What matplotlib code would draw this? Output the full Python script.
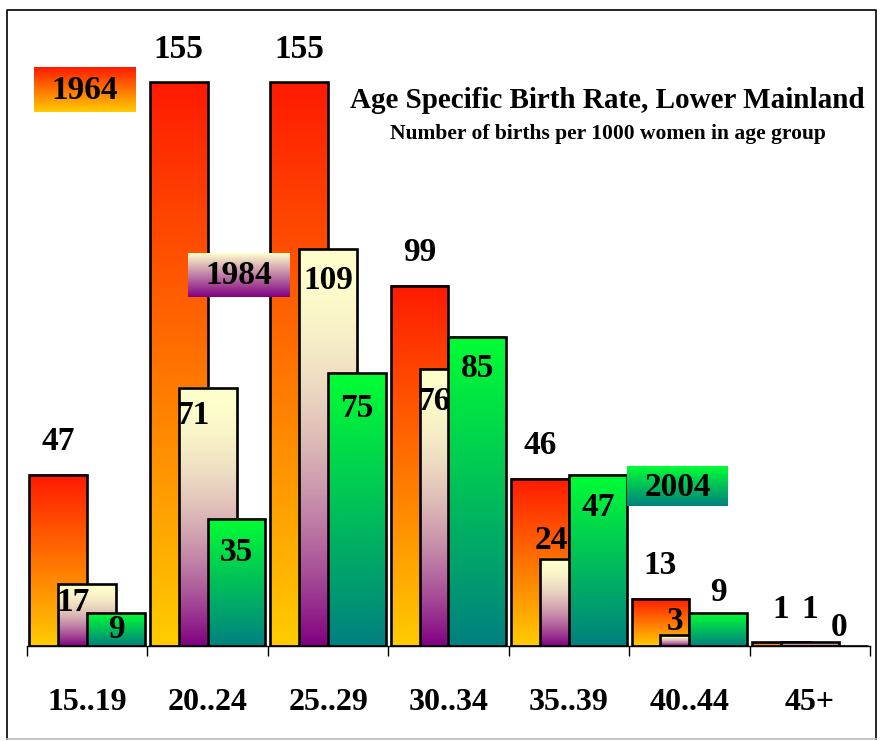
import numpy as np
import matplotlib
matplotlib.use("Agg")
import matplotlib.pyplot as plt
from matplotlib.patches import Rectangle
from matplotlib.colors import to_rgb

plt.rcParams['font.family'] = ['Liberation Serif', 'DejaVu Serif']
plt.rcParams['font.weight'] = 'bold'

# ---- data ----
categories = ["15..19", "20..24", "25..29", "30..34", "35..39", "40..44", "45+"]
series_names = ["1964", "1984", "2004"]
rate_1964 = [47, 155, 155, 99, 46, 13, 1]
rate_1984 = [17, 71, 109, 76, 24, 3, 1]
rate_2004 = [9, 35, 75, 85, 47, 9, 0]

# ---- styling / positions ----
W, H, DPI = 882, 741, 100
grad_colors = {  # (top, bottom)
    "1964": ("#FF1A00", "#FFCC00"),
    "1984": ("#FFFFCC", "#800080"),
    "2004": ("#00FF33", "#008080"),
}
grad_gamma = {"1964": 1.0, "1984": 1.8, "2004": 1.0}
step = 0.24
bar_w = 0.48
px_per_unit = 564 / 155.0
# label offsets in pixels (text centre relative to bar top; + is above)
lab_dy = {
    "1964": [33, 33, 33, 33, 33, 33, 33],
    "1984": [-18, -28, -31, -32, 18, 14, 33],
    "2004": [-16, -34, -35, -32, -33, 21, 19],
}
# label x shift, in units of step
lab_dx = {
    "1964": [0, 0, 0, 0, 0, 0, 0],
    "1984": [-0.5, -0.5, 0, -0.5, -0.6, -0.5, 0],
    "2004": [0, 0, 0, 0, 0, 0, 0],
}

fig = plt.figure(figsize=(W / DPI, H / DPI), dpi=DPI)
fig.patch.set_facecolor("white")

ax_left = 27 / W
ax_width = 843 / W
ax_bottom = (H - 646) / H
ax_height = 636 / H
ax = fig.add_axes([ax_left, ax_bottom, ax_width, ax_height])
ax.set_facecolor("none")


def gradient(top, bottom, gamma=1.0, n=256):
    t = np.linspace(0, 1, n) ** gamma  # 0 at top -> 1 at bottom
    c0 = np.array(to_rgb(top))
    c1 = np.array(to_rgb(bottom))
    arr = c0[None, :] * (1 - t[:, None]) + c1[None, :] * t[:, None]
    return arr[:, None, :]  # row 0 = top


series = {"1964": rate_1964, "1984": rate_1984, "2004": rate_2004}
for k, name in enumerate(series_names):
    vals = series[name]
    top, bottom = grad_colors[name]
    img = gradient(top, bottom, grad_gamma[name])
    z = 2 + 2 * k
    for i, v in enumerate(vals):
        xc = i + (k - 1) * step
        x0 = xc - bar_w / 2
        if v > 0:
            ax.imshow(img, extent=(x0, x0 + bar_w, 0, v), aspect='auto',
                      interpolation='bilinear', zorder=z, origin='upper')
        ax.add_patch(Rectangle((x0, 0), bar_w, v, facecolor='none',
                               edgecolor='black', lw=1.9, zorder=z + 0.5))
        ty = v + lab_dy[name][i] / px_per_unit
        tx = xc + lab_dx[name][i] * step
        ax.text(tx, ty, str(v), ha='center', va='center', fontsize=24,
                fontweight='bold', zorder=20)

ax.set_xlim(-0.5, len(categories) - 0.5)
ax.set_ylim(0, 636 / px_per_unit)
for s in ["top", "right", "left"]:
    ax.spines[s].set_visible(False)
ax.spines["bottom"].set_linewidth(1.0)
ax.spines["bottom"].set_zorder(30)
ax.set_yticks([])
ax.set_xticks(np.arange(len(categories)))
ax.set_xticklabels(categories, fontsize=23, fontweight='bold')
ax.tick_params(axis='x', which='major', length=0, pad=30)
ax.set_xticks(np.arange(len(categories) + 1) - 0.5, minor=True)
ax.tick_params(axis='x', which='minor', length=7, width=1.0, direction='out')

# ---- overlay in pixel coordinates ----
ov = fig.add_axes([0, 0, 1, 1])
ov.set_xlim(0, W)
ov.set_ylim(H, 0)
ov.axis("off")
ov.set_facecolor("none")

# frame
ov.plot([7, 7, 876, 876], [739, 10, 10, 739], color='black', lw=1.2)
ov.plot([7, 876], [739, 739], color='#BBBBBB', lw=1.2)

# legend boxes
legend_boxes = {"1964": (34, 67, 136, 112), "1984": (188, 253, 290, 297),
                "2004": (627, 466, 728, 506)}
for name, (x0, y0, x1, y1) in legend_boxes.items():
    top, bottom = grad_colors[name]
    img = gradient(top, bottom, 1.0)
    ov.imshow(img, extent=(x0, x1, y1, y0), aspect='auto',
              interpolation='bilinear', zorder=5, origin='upper')
    ov.text((x0 + x1) / 2, (y0 + y1) / 2 + 1, name, ha='center', va='center',
            fontsize=24, fontweight='bold', zorder=6)
ov.set_xlim(0, W)
ov.set_ylim(H, 0)

ov.text(607, 101, "Age Specific Birth Rate, Lower Mainland", ha='center',
        va='center', fontsize=21, fontweight='bold')
ov.text(608, 134, "Number of births per 1000 women in age group", ha='center',
        va='center', fontsize=15.5, fontweight='bold')

fig.savefig("out.png", dpi=DPI)
